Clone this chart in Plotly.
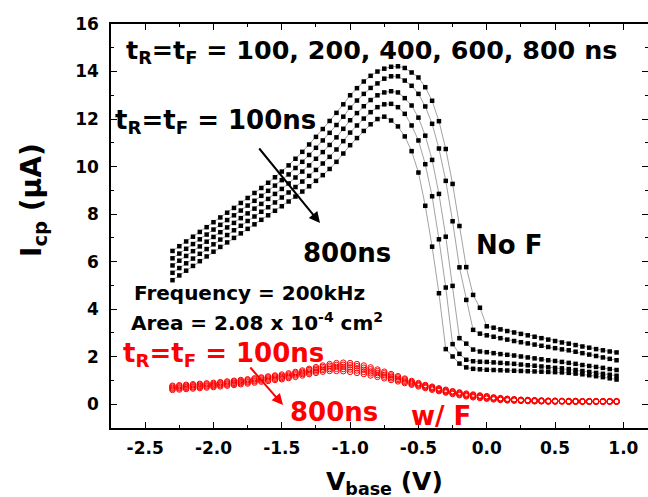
import plotly.graph_objects as go

# ---------------- data ----------------
v_base = [-2.30, -2.25, -2.20, -2.15, -2.10, -2.05, -2.00, -1.95, -1.90, -1.85,
          -1.80, -1.75, -1.70, -1.65, -1.60, -1.55, -1.50, -1.45, -1.40, -1.35,
          -1.30, -1.25, -1.20, -1.15, -1.10, -1.05, -1.00, -0.95, -0.90, -0.85,
          -0.80, -0.75, -0.70, -0.65, -0.60, -0.55, -0.50, -0.45, -0.40, -0.35,
          -0.30, -0.25, -0.20, -0.15, -0.10, -0.05, 0.00, 0.05, 0.10, 0.15,
          0.20, 0.25, 0.30, 0.35, 0.40, 0.45, 0.50, 0.55, 0.60, 0.65,
          0.70, 0.75, 0.80, 0.85, 0.90, 0.95]

# No F (black squares)
nof_100 = [6.45, 6.65, 6.85, 7.05, 7.25, 7.45, 7.66, 7.86, 8.06, 8.26,
           8.47, 8.68, 8.89, 9.10, 9.32, 9.55, 9.79, 10.05, 10.33, 10.62,
           10.93, 11.25, 11.58, 11.92, 12.26, 12.62, 13.00, 13.30, 13.58, 13.82,
           14.00, 14.12, 14.20, 14.22, 14.15, 13.96, 13.75, 13.34, 12.77, 11.91,
           10.74, 9.27, 7.50, 5.77, 4.60, 4.06, 3.28, 3.22, 3.15, 3.08,
           3.02, 2.96, 2.90, 2.84, 2.78, 2.72, 2.66, 2.60, 2.55, 2.49,
           2.43, 2.38, 2.32, 2.27, 2.22, 2.18]
nof_200 = [6.14, 6.34, 6.54, 6.74, 6.94, 7.14, 7.35, 7.55, 7.75, 7.95,
           8.15, 8.36, 8.56, 8.77, 8.98, 9.20, 9.43, 9.67, 9.94, 10.20,
           10.49, 10.79, 11.10, 11.42, 11.75, 12.10, 12.48, 12.78, 13.06, 13.31,
           13.50, 13.70, 13.80, 13.80, 13.62, 13.40, 13.06, 12.53, 11.80, 10.76,
           9.40, 7.70, 5.76, 4.39, 3.13, 2.97, 2.90, 2.84, 2.78, 2.72,
           2.66, 2.61, 2.56, 2.51, 2.46, 2.41, 2.36, 2.31, 2.27, 2.21,
           2.15, 2.09, 2.03, 1.97, 1.91, 1.85]
nof_400 = [5.84, 6.04, 6.24, 6.44, 6.64, 6.84, 7.04, 7.24, 7.44, 7.63,
           7.83, 8.03, 8.23, 8.43, 8.64, 8.85, 9.06, 9.29, 9.54, 9.79,
           10.05, 10.33, 10.61, 10.91, 11.23, 11.59, 11.95, 12.25, 12.54, 12.80,
           13.00, 13.12, 13.17, 13.12, 12.88, 12.57, 12.06, 11.30, 10.28, 8.85,
           7.05, 4.98, 2.78, 2.55, 2.30, 2.22, 2.19, 2.15, 2.11, 2.08,
           2.05, 2.01, 1.97, 1.93, 1.89, 1.85, 1.82, 1.78, 1.74, 1.70,
           1.65, 1.61, 1.57, 1.53, 1.48, 1.44]
nof_600 = [5.53, 5.73, 5.93, 6.13, 6.33, 6.53, 6.73, 6.93, 7.12, 7.32,
           7.51, 7.71, 7.90, 8.10, 8.29, 8.49, 8.70, 8.91, 9.14, 9.37,
           9.61, 9.86, 10.13, 10.41, 10.72, 11.07, 11.43, 11.73, 12.02, 12.29,
           12.50, 12.62, 12.64, 12.50, 12.22, 11.73, 11.10, 10.10, 8.75, 6.94,
           4.91, 2.53, 2.12, 1.87, 1.81, 1.79, 1.78, 1.76, 1.74, 1.72,
           1.70, 1.67, 1.64, 1.62, 1.59, 1.56, 1.53, 1.51, 1.48, 1.44,
           1.40, 1.36, 1.32, 1.28, 1.24, 1.20]
nof_800 = [5.22, 5.42, 5.62, 5.82, 6.02, 6.22, 6.42, 6.62, 6.81, 7.00,
           7.19, 7.38, 7.57, 7.76, 7.95, 8.14, 8.33, 8.53, 8.74, 8.95,
           9.17, 9.40, 9.64, 9.90, 10.20, 10.55, 10.90, 11.20, 11.50, 11.78,
           12.00, 12.10, 11.94, 11.69, 11.27, 10.65, 9.75, 8.35, 6.63, 4.67,
           2.32, 2.01, 1.71, 1.55, 1.49, 1.47, 1.45, 1.44, 1.43, 1.42,
           1.41, 1.40, 1.39, 1.38, 1.37, 1.36, 1.35, 1.34, 1.32, 1.29,
           1.26, 1.22, 1.18, 1.14, 1.09, 1.04]

# w/ F (red open circles)
wf_100 = [0.78, 0.80, 0.82, 0.84, 0.86, 0.88, 0.90, 0.93, 0.96, 0.99,
          1.02, 1.05, 1.09, 1.13, 1.17, 1.21, 1.25, 1.30, 1.36, 1.42,
          1.49, 1.56, 1.63, 1.69, 1.73, 1.75, 1.73, 1.69, 1.63, 1.55,
          1.46, 1.37, 1.27, 1.18, 1.08, 0.98, 0.89, 0.81, 0.74, 0.67,
          0.61, 0.55, 0.50, 0.45, 0.41, 0.37, 0.34, 0.29, 0.26, 0.23,
          0.21, 0.19, 0.18, 0.17, 0.16, 0.15, 0.15, 0.14, 0.14, 0.14,
          0.13, 0.13, 0.13, 0.13, 0.13, 0.13]
wf_200 = [0.74, 0.76, 0.78, 0.80, 0.82, 0.84, 0.86, 0.89, 0.92, 0.95,
          0.98, 1.01, 1.05, 1.09, 1.13, 1.17, 1.20, 1.25, 1.31, 1.37,
          1.44, 1.50, 1.57, 1.62, 1.65, 1.66, 1.64, 1.60, 1.54, 1.47,
          1.39, 1.30, 1.21, 1.13, 1.04, 0.94, 0.86, 0.78, 0.71, 0.64,
          0.58, 0.52, 0.47, 0.42, 0.38, 0.35, 0.32, 0.27, 0.24, 0.22,
          0.20, 0.18, 0.17, 0.16, 0.15, 0.14, 0.14, 0.14, 0.13, 0.13,
          0.12, 0.12, 0.12, 0.12, 0.12, 0.12]
wf_400 = [0.69, 0.71, 0.73, 0.75, 0.77, 0.79, 0.81, 0.84, 0.87, 0.90,
          0.93, 0.96, 1.00, 1.04, 1.08, 1.12, 1.15, 1.20, 1.26, 1.32,
          1.38, 1.44, 1.50, 1.55, 1.57, 1.57, 1.55, 1.51, 1.45, 1.38,
          1.31, 1.23, 1.15, 1.07, 0.99, 0.90, 0.82, 0.75, 0.68, 0.61,
          0.55, 0.49, 0.44, 0.39, 0.35, 0.32, 0.29, 0.25, 0.22, 0.20,
          0.18, 0.17, 0.16, 0.15, 0.14, 0.13, 0.13, 0.13, 0.12, 0.12,
          0.12, 0.12, 0.12, 0.12, 0.12, 0.12]
wf_600 = [0.65, 0.67, 0.69, 0.71, 0.73, 0.75, 0.77, 0.80, 0.83, 0.86,
          0.89, 0.92, 0.96, 1.00, 1.03, 1.07, 1.10, 1.15, 1.21, 1.27,
          1.33, 1.38, 1.44, 1.48, 1.49, 1.48, 1.46, 1.42, 1.36, 1.30,
          1.23, 1.16, 1.09, 1.02, 0.94, 0.86, 0.79, 0.72, 0.65, 0.58,
          0.52, 0.46, 0.41, 0.36, 0.32, 0.29, 0.26, 0.23, 0.20, 0.18,
          0.17, 0.16, 0.15, 0.14, 0.13, 0.12, 0.12, 0.12, 0.11, 0.11,
          0.11, 0.11, 0.11, 0.11, 0.11, 0.11]
wf_800 = [0.60, 0.62, 0.64, 0.66, 0.68, 0.70, 0.72, 0.75, 0.78, 0.81,
          0.84, 0.87, 0.91, 0.95, 0.98, 1.02, 1.05, 1.10, 1.15, 1.21,
          1.27, 1.32, 1.37, 1.40, 1.40, 1.39, 1.36, 1.32, 1.27, 1.21,
          1.15, 1.09, 1.02, 0.96, 0.89, 0.82, 0.75, 0.68, 0.61, 0.55,
          0.49, 0.43, 0.38, 0.33, 0.29, 0.26, 0.23, 0.20, 0.18, 0.16,
          0.15, 0.14, 0.13, 0.12, 0.12, 0.11, 0.11, 0.11, 0.10, 0.10,
          0.10, 0.10, 0.10, 0.10, 0.10, 0.10]

x_tickvals = [-2.5, -2.0, -1.5, -1.0, -0.5, 0.0, 0.5, 1.0]
x_ticktext = ["-2.5", "-2.0", "-1.5", "-1.0", "-0.5", "0.0", "0.5", "1.0"]
y_tickvals = [0, 2, 4, 6, 8, 10, 12, 14, 16]
y_ticktext = ["0", "2", "4", "6", "8", "10", "12", "14", "16"]

# ---------------- layout geometry ----------------
W, H = 648, 497
ML, MR, MT, MB = 111, 0, 24, 69
XR = [-2.75, 1.18]
YR = [-1.0, 16.0]
FONT = "DejaVu Sans"
PW, PH = W - ML - MR, H - MT - MB

def px2x(px):
    return XR[0] + (px - ML) / PW * (XR[1] - XR[0])

def py2y(py):
    return YR[1] - (py - MT) / PH * (YR[1] - YR[0])

def px2paper(px):
    return (px - ML) / PW

def py2paper(py):
    return (H - MB - py) / PH

fig = go.Figure()

for ys in [nof_100, nof_200, nof_400, nof_600, nof_800]:
    fig.add_trace(go.Scatter(
        x=v_base, y=ys, mode="lines+markers",
        line=dict(color="#8a8a8a", width=0.8),
        marker=dict(symbol="square", size=4.5, color="black"),
        showlegend=False, hoverinfo="skip"))

for ys in [wf_100, wf_200, wf_400, wf_600, wf_800]:
    fig.add_trace(go.Scatter(
        x=v_base, y=ys, mode="markers",
        marker=dict(symbol="circle-open", size=5.5, color="#ff0000",
                    line=dict(width=1, color="#ff0000")),
        showlegend=False, hoverinfo="skip"))

def label(text, px, py, size, color="black"):
    fig.add_annotation(
        x=px2x(px), y=py2y(py), xref="x", yref="y", text=text,
        showarrow=False, xanchor="left", yanchor="middle",
        font=dict(family=FONT, size=size, color=color, weight="bold"))

def arrow(tail, head, color):
    fig.add_annotation(
        x=px2x(head[0]), y=py2y(head[1]), xref="x", yref="y",
        ax=tail[0] - head[0], ay=tail[1] - head[1],
        text="", showarrow=True, arrowhead=2, arrowsize=1.1,
        arrowwidth=2, arrowcolor=color)

label("t<sub>R</sub>=t<sub>F</sub> = 100, 200, 400, 600, 800 ns", 124, 51, 25.4)
label("t<sub>R</sub>=t<sub>F</sub> = 100ns", 113, 121, 26)
label("800ns", 301, 253, 26)
label("No F", 474, 245, 26)
label("Frequency = 200kHz", 132, 293, 20)
label("Area = 2.08 x 10<sup>-4</sup> cm<sup>2</sup>", 129, 322, 20)
label("t<sub>R</sub>=t<sub>F</sub> = 100ns", 121, 354, 26, "#ff0000")
label("800ns", 288, 412, 26, "#ff0000")
label("w/ F", 409, 416, 26, "#ff0000")

arrow((258, 147), (320, 223), "black")
arrow((249, 366), (283, 405), "#ff0000")

# axis titles
fig.add_annotation(x=px2paper(33), y=py2paper(200), xref="paper", yref="paper",
                   text="I<sub>cp</sub> (μA)", showarrow=False, textangle=-90,
                   xanchor="center", yanchor="middle",
                   font=dict(family=FONT, size=28, color="black", weight="bold"))
fig.add_annotation(x=px2paper(384), y=py2paper(483), xref="paper", yref="paper",
                   text="V<sub>base</sub> (V)", showarrow=False,
                   xanchor="center", yanchor="middle",
                   font=dict(family=FONT, size=25, color="black", weight="bold"))

axis_common = dict(
    showline=True, linecolor="black", linewidth=1.5, mirror="allticks",
    ticks="inside", ticklen=6, tickwidth=1.2, tickcolor="black",
    showgrid=False, zeroline=False, automargin=False,
    tickfont=dict(family=FONT, size=17, color="black", weight="bold"),
)

fig.update_xaxes(range=XR, tickvals=x_tickvals, ticktext=x_ticktext,
                 minor=dict(dtick=0.25, tick0=0, ticks="inside", ticklen=3,
                            tickcolor="black", tickwidth=1),
                 ticklabelstandoff=4, **axis_common)
fig.update_yaxes(range=YR, tickvals=y_tickvals, ticktext=y_ticktext,
                 minor=dict(dtick=1, tick0=0, ticks="inside", ticklen=3,
                            tickcolor="black", tickwidth=1),
                 ticklabelstandoff=7, **axis_common)

fig.update_layout(
    width=W, height=H,
    margin=dict(l=ML, r=MR, t=MT, b=MB, pad=0, autoexpand=False),
    paper_bgcolor="white", plot_bgcolor="white",
    showlegend=False,
)

fig.write_html(
    "out.html",
    config={"displayModeBar": False},
    post_script="document.body.style.margin='0';document.body.style.overflow='hidden';",
)
